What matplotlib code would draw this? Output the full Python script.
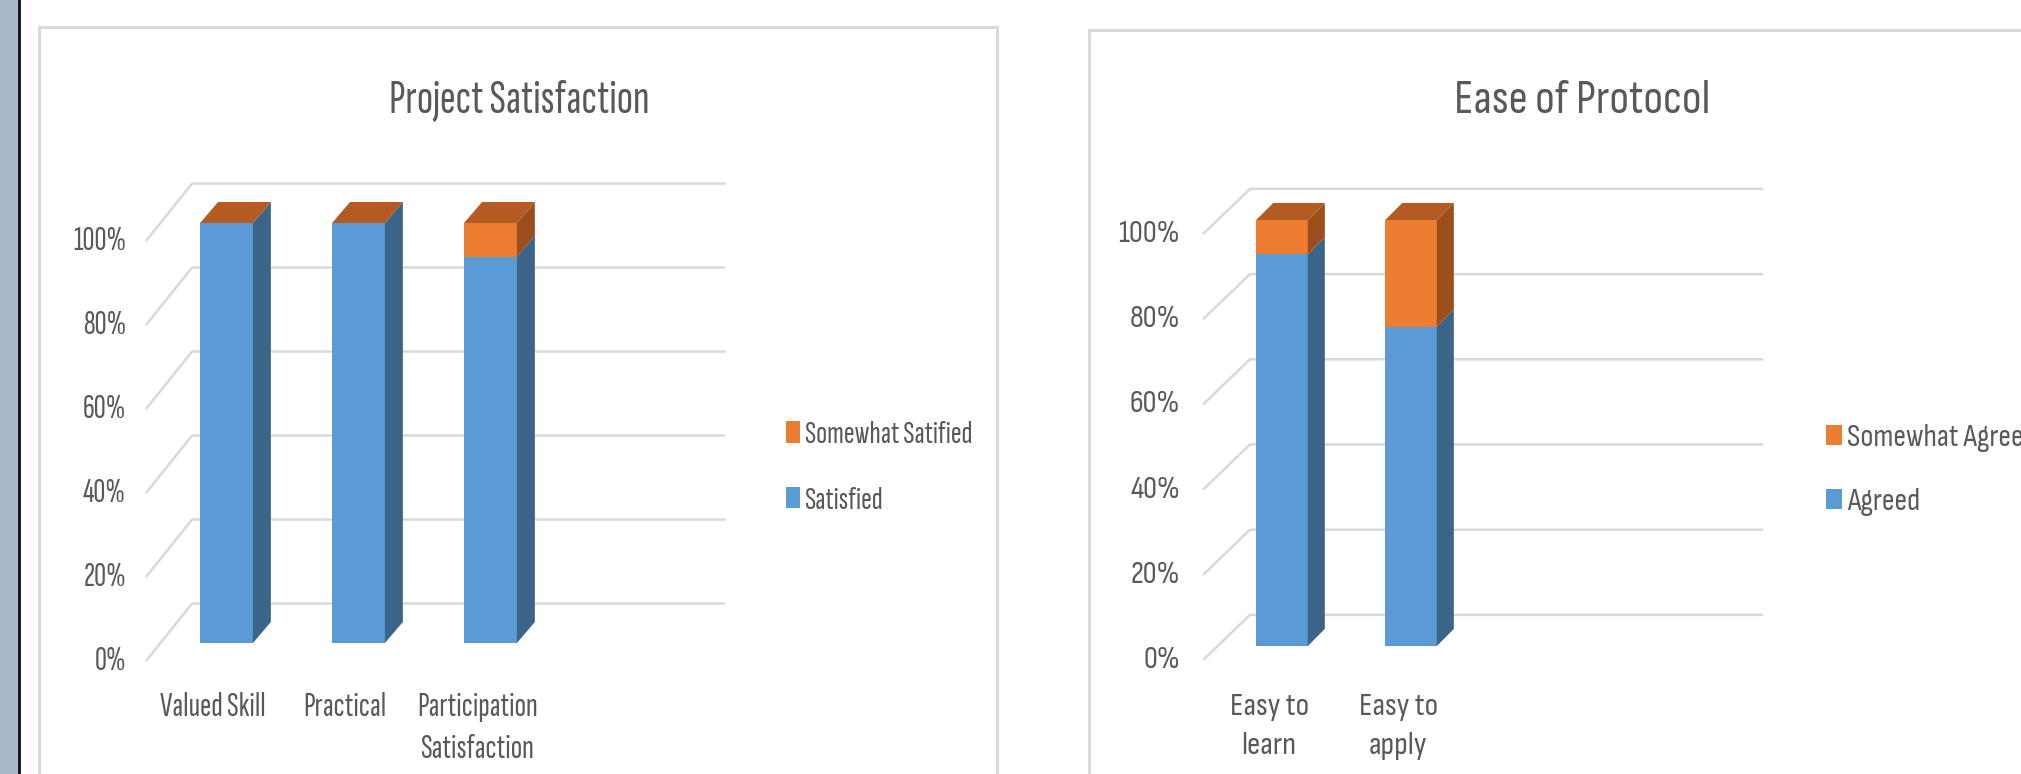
import numpy as np
import matplotlib
matplotlib.use("Agg")
import matplotlib.pyplot as plt
from matplotlib.patches import Polygon, Rectangle, Patch

plt.rcParams["font.family"] = ["Sofia Sans Extra Condensed", "DejaVu Sans"]

W, H, DPI = 2021, 774, 100

# ---- data -------------------------------------------------------------
ps_title = "Project Satisfaction"
ps_categories = ["Valued Skill", "Practical", "Participation\nSatisfaction"]
ps_base_name = "Satisfied"
ps_top_name = "Somewhat Satified"
ps_satisfied = [100, 100, 92]
ps_somewhat = [0, 0, 8]

ep_title = "Ease of Protocol"
ep_categories = ["Easy to\nlearn", "Easy to\napply"]
ep_base_name = "Agreed"
ep_top_name = "Somewhat Agreed"
ep_agreed = [92, 75]
ep_somewhat = [8, 25]

value_ticks = [0, 20, 40, 60, 80, 100]
value_tick_labels = ["0%", "20%", "40%", "60%", "80%", "100%"]

# ---- styling ----------------------------------------------------------
BLUE = "#5b9bd5"
BLUE_SIDE = "#3b6489"
ORANGE = "#ed7d31"
ORANGE_SIDE = "#9c4f1d"
TOP_FACE = "#b35b22"
GRID = "#d9d9d9"
TEXT = "#595959"
BORDER = "#d9d9d9"

# pixel layout of each chart box and of its pseudo-3D plot area
LEFT_LAYOUT = dict(box=(39, 27, 997, 820), origin=(226.5, 643), ux=132, uy=4.2,
                   bar_w=0.40, depth=(0.136, 5.0), front=(-0.61, -4.3),
                   back=(-0.261, 9.4), wall_end=3.78, tick_x=-0.761,
                   cat_dx=-0.1, cat_y=-11.7, title=(519, 112), legend=(786, 468),
                   family=["Sofia Sans Extra Condensed", "DejaVu Sans"],
                   tick_size=24, cat_size=24.5, legend_size=23.4, title_size=34.5,
                   handle=(0.42, 0.64))
RIGHT_LAYOUT = dict(box=(1089, 30, 2060, 820), origin=(1282, 646), ux=129, uy=4.26,
                    bar_w=0.40, depth=(0.132, 4.0), front=(-0.612, -3.3),
                    back=(-0.248, 7.3), wall_end=3.73, tick_x=-0.79,
                    cat_dx=-0.1, cat_y=-11.0, title=(1582, 113), legend=(1826, 470),
                    family=["Sofia Sans Condensed", "DejaVu Sans"],
                    tick_size=22.5, cat_size=23.5, legend_size=22.5, title_size=34,
                    handle=(0.51, 0.62))


def draw_chart(fig, title, categories, base, top, base_name, top_name, lay):
    fam = lay["family"]
    x0, y0, x1, y1 = lay["box"]
    ox, oy = lay["origin"]
    ux, uy = lay["ux"], lay["uy"]
    ax = fig.add_axes([x0 / W, 1 - y1 / H, (x1 - x0) / W, (y1 - y0) / H])
    ax.set_xlim((x0 - ox) / ux, (x1 - ox) / ux)
    ax.set_ylim((oy - y1) / uy, (oy - y0) / uy)
    ax.set_xticks([])
    ax.set_yticks([])
    for sp in ax.spines.values():
        sp.set_color(BORDER)
        sp.set_linewidth(2.2)

    fx, fy = lay["front"]
    bx, by = lay["back"]
    # back-wall gridlines with their receding side-wall segments
    for v, lab in zip(value_ticks, value_tick_labels):
        ax.plot([fx, bx, lay["wall_end"]], [v + fy, v + by, v + by],
                color=GRID, lw=1.8, solid_capstyle="butt", zorder=1)
        ax.text(lay["tick_x"], v + fy, lab, ha="right", va="center",
                fontsize=lay["tick_size"], color=TEXT, family=fam)

    # stacked pseudo-3D columns
    w = lay["bar_w"]
    dx, dy = lay["depth"]
    pos = np.arange(len(categories))
    for i, b, t in zip(pos, base, top):
        xl, xr = i - w / 2, i + w / 2
        segs = [(0, b, BLUE, BLUE_SIDE)]
        if t > 0:
            segs.append((b, b + t, ORANGE, ORANGE_SIDE))
        for lo, hi, face, side in segs:
            ax.add_patch(Rectangle((xl, lo), w, hi - lo, facecolor=face,
                                   edgecolor="none", zorder=3))
            ax.add_patch(Polygon([(xr, lo), (xr + dx, lo + dy), (xr + dx, hi + dy), (xr, hi)],
                                 closed=True, facecolor=side, edgecolor="none", zorder=3))
        total = b + t
        ax.add_patch(Polygon([(xl, total), (xl + dx, total + dy), (xr + dx, total + dy), (xr, total)],
                             closed=True, facecolor=TOP_FACE, edgecolor="none", zorder=3))
        ax.text(i + lay["cat_dx"], lay["cat_y"], categories[i], ha="center", va="top",
                fontsize=lay["cat_size"], color=TEXT, linespacing=1.5, family=fam)

    # legend (top series listed first)
    lx, ly = lay["legend"]
    hl, hh = lay["handle"]
    handles = [Patch(facecolor=ORANGE, edgecolor="none"), Patch(facecolor=BLUE, edgecolor="none")]
    ax.legend(handles, [top_name, base_name], loc="center left",
              bbox_to_anchor=(lx / W, 1 - ly / H), bbox_transform=fig.transFigure,
              frameon=False, prop=dict(family=fam, size=lay["legend_size"]),
              handlelength=hl, handleheight=hh, handletextpad=0.15,
              labelspacing=1.15, borderpad=0, borderaxespad=0, labelcolor=TEXT)

    tx, ty = lay["title"]
    fig.text(tx / W, 1 - ty / H, title, ha="center", va="baseline",
             fontsize=lay["title_size"], color=TEXT, family=fam)
    return ax


fig = plt.figure(figsize=(W / DPI, H / DPI), dpi=DPI, facecolor="white")

# window frame strip on the far left
fig.patches.append(Rectangle((0, 0), 18 / W, 1, transform=fig.transFigure,
                             facecolor="#a9b8c8", edgecolor="none", zorder=0))
fig.patches.append(Rectangle((18 / W, 0), 3 / W, 1, transform=fig.transFigure,
                             facecolor="#1c1c1c", edgecolor="none", zorder=0))

draw_chart(fig, ps_title, ps_categories, ps_satisfied, ps_somewhat,
           ps_base_name, ps_top_name, LEFT_LAYOUT)
draw_chart(fig, ep_title, ep_categories, ep_agreed, ep_somewhat,
           ep_base_name, ep_top_name, RIGHT_LAYOUT)

fig.savefig("out.png", dpi=DPI, facecolor="white")
